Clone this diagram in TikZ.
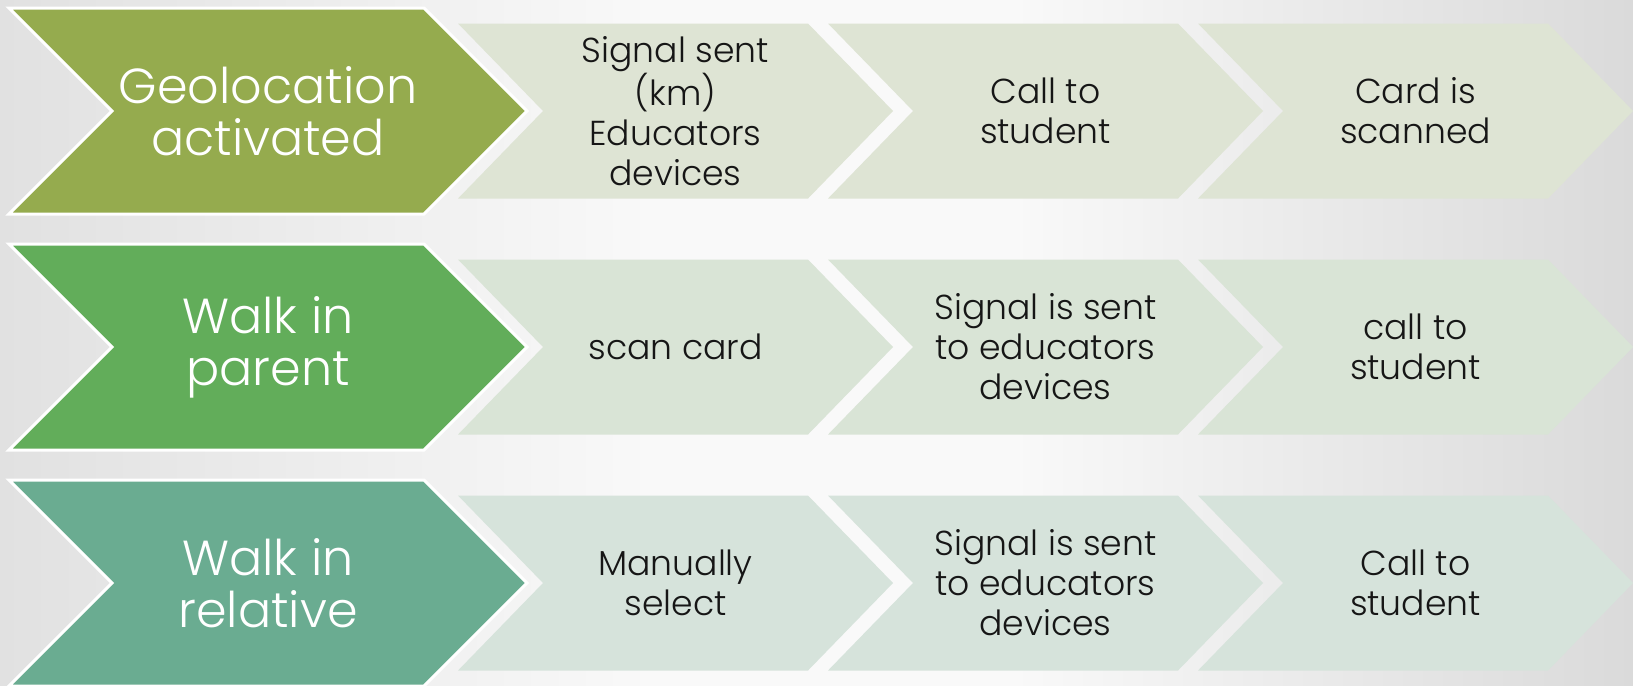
\documentclass[tikz,border=0pt]{standalone}
\usepackage{fontspec}
\setmainfont{Poppins}[UprightFont=* Light]
\usepackage{tikz}
\usepackage{xcolor}

\definecolor{olivegreen}{RGB}{149,171,78}
\definecolor{leafgreen}{RGB}{98,173,90}
\definecolor{seagreen}{RGB}{106,172,145}
\definecolor{paleolive}{RGB}{222,228,212}
\definecolor{paleleaf}{RGB}{217,228,214}
\definecolor{palesea}{RGB}{214,227,219}
\definecolor{sidegray}{RGB}{225,225,225}
\definecolor{sidegraydark}{RGB}{218,218,218}
\definecolor{midwhite}{RGB}{249,249,249}
\definecolor{inktext}{RGB}{22,22,22}

\pgfdeclarehorizontalshading{backdrop}{100bp}{color(0bp)=(sidegray); color(25bp)=(sidegray); color(45bp)=(midwhite); color(56bp)=(midwhite); color(75bp)=(sidegraydark); color(100bp)=(sidegraydark)}

\tikzset{
  headtext/.style={text=white, align=center, inner sep=0pt, font=\fontsize{28}{29.5}\selectfont},
  steptext/.style={text=inktext, align=center, inner sep=0pt, font=\fontsize{19.7}{22.8}\selectfont}
}

\begin{document}
\begin{tikzpicture}
  \useasboundingbox (0,0) rectangle (32.66,-13.7);
  \shade[shading=backdrop] (0,0) rectangle (32.66,-13.7);
  % three rows: pale steps first, the big green chevron on top
  \foreach \y/\big/\pale in {-2.22/olivegreen/paleolive, -6.94/leafgreen/paleleaf, -11.66/seagreen/palesea}{
    \foreach \x in {9.16,16.56,23.96}
      \fill[\pale] (\x,\y+1.75) -- ++(7,0) -- ++(1.7,-1.75) -- ++(-1.7,-1.75) -- ++(-7,0) -- ++(1.7,1.75) -- cycle;
    \draw[white, line width=1.7pt, line join=miter, fill=\big] (0.18,\y+2.06) -- (8.48,\y+2.06) -- (10.54,\y) -- (8.48,\y-2.06) -- (0.18,\y-2.06) -- (2.24,\y) -- cycle;
  }
  \node[headtext] (geo) at (5.36,-2.22) {Geolocation\\activated};
  \node[steptext] (geo1) at (13.51,-2.22) {Signal sent\\(km)\\Educators\\devices};
  \node[steptext] (geo2) at (20.91,-2.22) {Call to\\student};
  \node[steptext] (geo3) at (28.31,-2.22) {Card is\\scanned};
  \node[headtext] (parent) at (5.36,-6.94) {Walk in\\parent};
  \node[steptext] (parent1) at (13.51,-6.94) {scan card};
  \node[steptext] (parent2) at (20.91,-6.94) {Signal is sent\\to educators\\devices};
  \node[steptext] (parent3) at (28.31,-6.94) {call to\\student};
  \node[headtext] (relative) at (5.36,-11.66) {Walk in\\relative};
  \node[steptext] (relative1) at (13.51,-11.66) {Manually\\select};
  \node[steptext] (relative2) at (20.91,-11.66) {Signal is sent\\to educators\\devices};
  \node[steptext] (relative3) at (28.31,-11.66) {Call to\\student};
\end{tikzpicture}
\end{document}
